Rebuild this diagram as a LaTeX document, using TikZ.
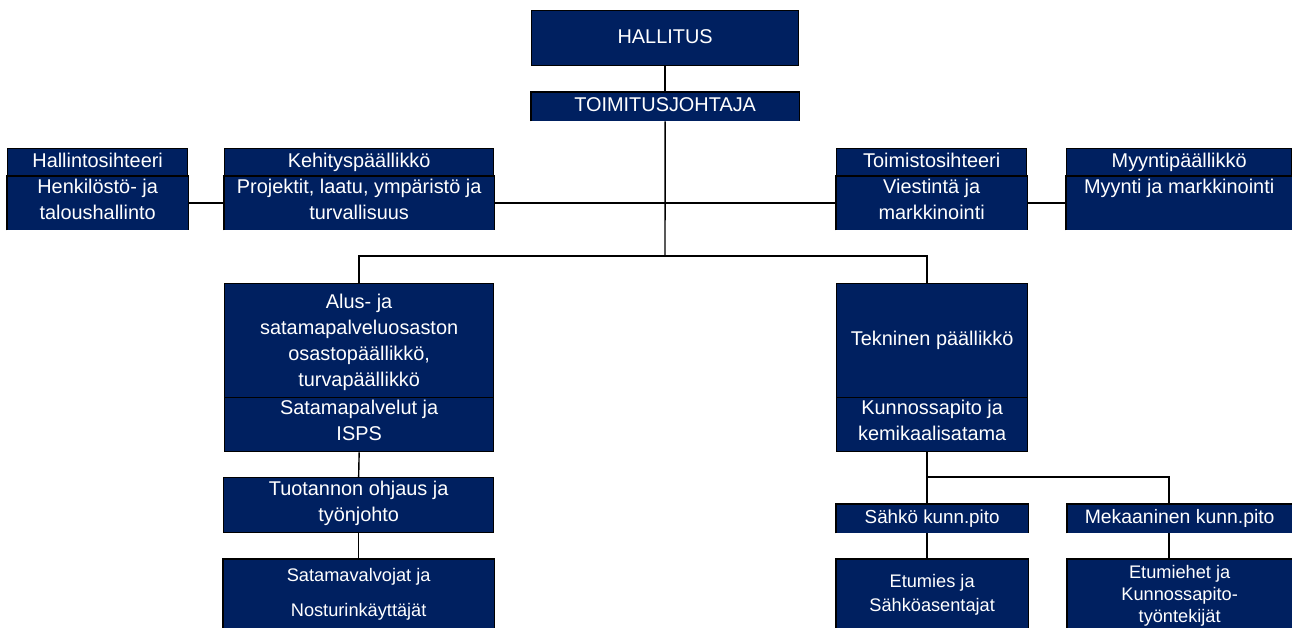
\documentclass[tikz,border=0pt]{standalone}
\usepackage{fontspec}
\setmainfont{Liberation Sans}
\definecolor{navy}{HTML}{002060}
\tikzset{
  box/.style={draw=black, line width=1.3pt, fill=navy, text=white, inner sep=0pt,
    anchor=north west, align=center, font=\fontsize{19.9}{26}\selectfont,
    execute at begin node=\strut, execute at end node=\strut},
  openbottom/.style={draw=none, append after command={\pgfextra{\draw[black, line width=1.3pt]
    (\tikzlastnode.south west) |- (\tikzlastnode.north east) -- (\tikzlastnode.south east);}}},
  link/.style={draw=black, line width=1.4pt}
}
\begin{document}
\begin{tikzpicture}[x=1pt,y=-1pt]
\useasboundingbox (0,0) rectangle (1292,628);
\clip (0,0) rectangle (1292,628);
% top
\node[box, minimum width=267pt, minimum height=55pt] (hal) at (531,10) {HALLITUS};
\node[box, openbottom, minimum width=267pt, minimum height=28pt] (toim) at (531,92) {TOIMITUSJOHTAJA};
% second row
\node[box, minimum width=180pt, minimum height=28pt] (hs1) at (7,148) {Hallintosihteeri};
\node[box, openbottom, minimum width=180pt, minimum height=53pt] (hs2) at (7,176) {Henkilöstö- ja\\taloushallinto};
\node[box, minimum width=269pt, minimum height=28pt] (kp1) at (224,148) {Kehityspäällikkö};
\node[box, openbottom, minimum width=269pt, minimum height=53pt] (kp2) at (224,176) {Projektit, laatu, ympäristö ja\\turvallisuus};
\node[box, minimum width=190pt, minimum height=28pt] (ts1) at (836,148) {Toimistosihteeri};
\node[box, openbottom, minimum width=190pt, minimum height=53pt] (ts2) at (836,176) {Viestintä ja\\markkinointi};
\node[box, minimum width=225pt, minimum height=28pt] (mp1) at (1066,148) {Myyntipäällikkö};
\node[box, openbottom, minimum width=225pt, minimum height=53pt] (mp2) at (1066,176) {Myynti ja markkinointi\\};
% third row
\node[box, minimum width=269pt, minimum height=114pt, text depth=0pt] (alus1) at (224,283) {Alus- ja\\satamapalveluosaston\\osastopäällikkö,\\turvapäällikkö};
\node[box, minimum width=269pt, minimum height=54pt] (alus2) at (224,397) {Satamapalvelut ja\\ISPS};
\node[box, minimum width=191pt, minimum height=114pt] (tek1) at (836,283) {Tekninen päällikkö};
\node[box, minimum width=191pt, minimum height=54pt] (tek2) at (836,397) {Kunnossapito ja\\kemikaalisatama};
% left column
\node[box, minimum width=270pt, minimum height=55pt] (tuo) at (223,477) {Tuotannon ohjaus ja\\työnjohto};
\node[box, openbottom, minimum width=270pt, minimum height=76pt, font=\fontsize{18.2}{35}\selectfont] (sat) at (223,559) {Satamavalvojat ja\\Nosturinkäyttäjät};
% right column
\node[box, openbottom, minimum width=191pt, minimum height=28pt, font=\fontsize{18.8}{26}\selectfont] (sah) at (836,504) {Sähkö kunn.pito};
\node[box, openbottom, minimum width=224pt, minimum height=28pt, font=\fontsize{19.4}{26}\selectfont] (mek) at (1067,504) {Mekaaninen kunn.pito};
\node[box, openbottom, minimum width=191pt, minimum height=74pt, font=\fontsize{18.2}{24}\selectfont] (etu) at (836,559) {Etumies ja\\Sähköasentajat};
\node[box, openbottom, minimum width=224pt, minimum height=75pt, font=\fontsize{18.2}{22}\selectfont] (etm) at (1067,559) {Etumiehet ja\\Kunnossapito-\\työntekijät};
% connectors
\coordinate (j1) at (665,256);
\coordinate (j3) at (927,477);
\draw[link] (hal.south) -- (toim.north);
\draw[link] (toim.south) -- (j1);
\draw[link] (hs2.east) -- (kp2.west);
\draw[link] (kp2.east) -- (ts2.west);
\draw[link] (ts2.east) -- (mp2.west);
\draw[link] (alus1.north) |- (j1) -| ([xshift=91pt]tek1.north west);
\draw[link] (alus2.south) -- (tuo.north);
\draw[link] (tuo.south) -- (sat.north);
\draw[link] ([xshift=91pt]tek2.south west) -- ([xshift=91pt]sah.north west);
\draw[link] (j3) -| ([xshift=102pt]mek.north west);
\draw[link] ([xshift=91pt]sah.south west) -- ([xshift=91pt]etu.north west);
\draw[link] ([xshift=102pt]mek.south west) -- ([xshift=102pt]etm.north west);
\end{tikzpicture}
\end{document}
